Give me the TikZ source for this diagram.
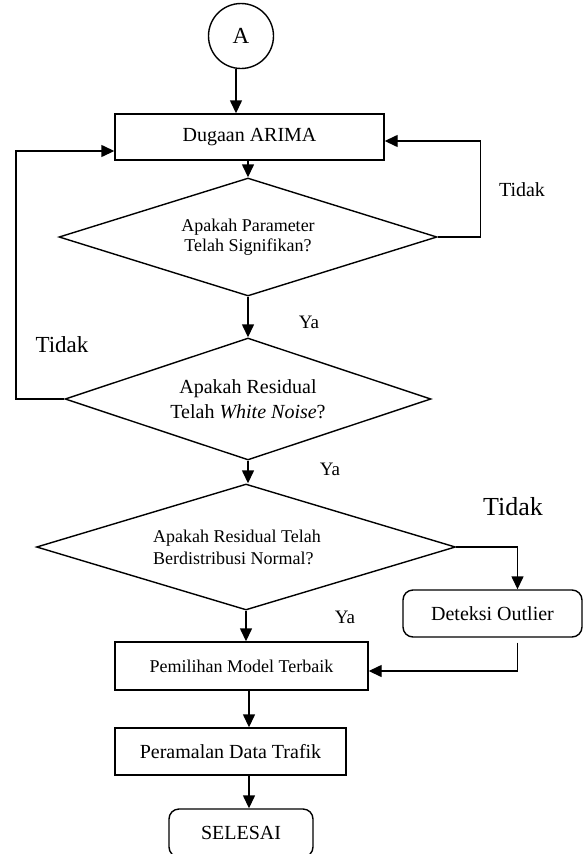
\documentclass[tikz,border=0pt]{standalone}
\usepackage{fontspec}
\setmainfont{Liberation Serif}
\usetikzlibrary{arrows.meta, shapes.geometric}

\begin{document}
\begin{tikzpicture}[x=1pt, y=-1pt, line width=1.4pt,
    box/.style={draw, rectangle, inner sep=0pt},
    rbox/.style={draw, rectangle, rounded corners=10pt, inner sep=0pt},
    decision/.style={draw, diamond, aspect=3, inner sep=0pt, align=center},
    arr/.style={-{Triangle[length=13pt,width=12pt]}},
    lbl/.style={inner sep=0pt}]
    \useasboundingbox (0,0) rectangle (583,854);
    \clip (0,0) rectangle (583,854);

    % Shapes:
    \node (start) [draw, circle, minimum size=65pt, inner sep=0pt, font=\fontsize{23}{26}\selectfont] at (241,36) {A};
    \node (dugaan) [box, minimum width=269pt, minimum height=46pt, font=\fontsize{20}{24}\selectfont] at (249.5,137) {Dugaan ARIMA};
    \node (q1) [decision, minimum width=378pt, minimum height=118pt, font=\fontsize{18}{20}\selectfont] at (248,237)
        {Apakah Parameter\\Telah Signifikan?};
    \node (q2) [decision, minimum width=366pt, minimum height=122pt, font=\fontsize{20}{25}\selectfont] at (248,399)
        {Apakah Residual\\Telah \textit{White Noise}?};
    \node (q3) [decision, minimum width=419pt, minimum height=126pt, font=\fontsize{18}{22}\selectfont, align=left] at (246,547)
        {Apakah Residual Telah\hspace*{18pt}\\Berdistribusi Normal?};
    \node (deteksi) [rbox, minimum width=179pt, minimum height=47pt, font=\fontsize{20}{24}\selectfont] at (492.5,613.5) {Deteksi Outlier};
    \node (pilih) [box, minimum width=253pt, minimum height=48pt, font=\fontsize{18}{22}\selectfont] at (241.5,666) {Pemilihan Model Terbaik};
    \node (ramal) [box, minimum width=231pt, minimum height=47pt, font=\fontsize{20}{24}\selectfont] at (230.5,751.5) {Peramalan Data Trafik};
    \node (selesai) [rbox, minimum width=144pt, minimum height=48pt, font=\fontsize{20}{24}\selectfont] at (241,833) {SELESAI};

    \coordinate (spine) at (249,0);
    \coordinate (lft) at (16,0);

    % Arrows:
    \draw[arr] ([xshift=-5pt]start.south) -- ([xshift=-5pt]start.south |- dugaan.north);
    \draw[arr] (dugaan.south -| q1.north) -- (q1.north);
    \draw[arr] (q1.east) -- ++(43,0) |- ([yshift=-4pt]dugaan.east);
    \draw[arr] (q1.south) -- (q2.north);
    \draw[arr] (q2.west) -- (q2.west -| lft) |- ([yshift=-14pt]dugaan.west);
    \draw[arr] (q2.south) -- (q2.south |- q3.north);
    \draw[arr] (q3.east) -| ([xshift=25pt]deteksi.north);
    \draw[arr] (q3.south) -- (q3.south |- pilih.north);
    \draw[arr] ([xshift=25pt,yshift=-5pt]deteksi.south) |- ([yshift=-5pt]pilih.east);
    \draw[arr] (spine |- pilih.south) -- (spine |- ramal.north);
    \draw[arr] (spine |- ramal.south) -- (spine |- selesai.north);

    % Labels:
    \node (tidak1) [lbl, font=\fontsize{20}{24}\selectfont] at (522,190) {Tidak};
    \node (ya1) [lbl, font=\fontsize{19}{22}\selectfont] at (309,322) {Ya};
    \node (tidak2) [lbl, font=\fontsize{23}{26}\selectfont] at (62,345) {Tidak};
    \node (ya2) [lbl, font=\fontsize{19}{22}\selectfont] at (330,469) {Ya};
    \node (tidak3) [lbl, font=\fontsize{26}{30}\selectfont] at (513,507) {Tidak};
    \node (ya3) [lbl, font=\fontsize{19}{22}\selectfont] at (345,617) {Ya};
\end{tikzpicture}
\end{document}
